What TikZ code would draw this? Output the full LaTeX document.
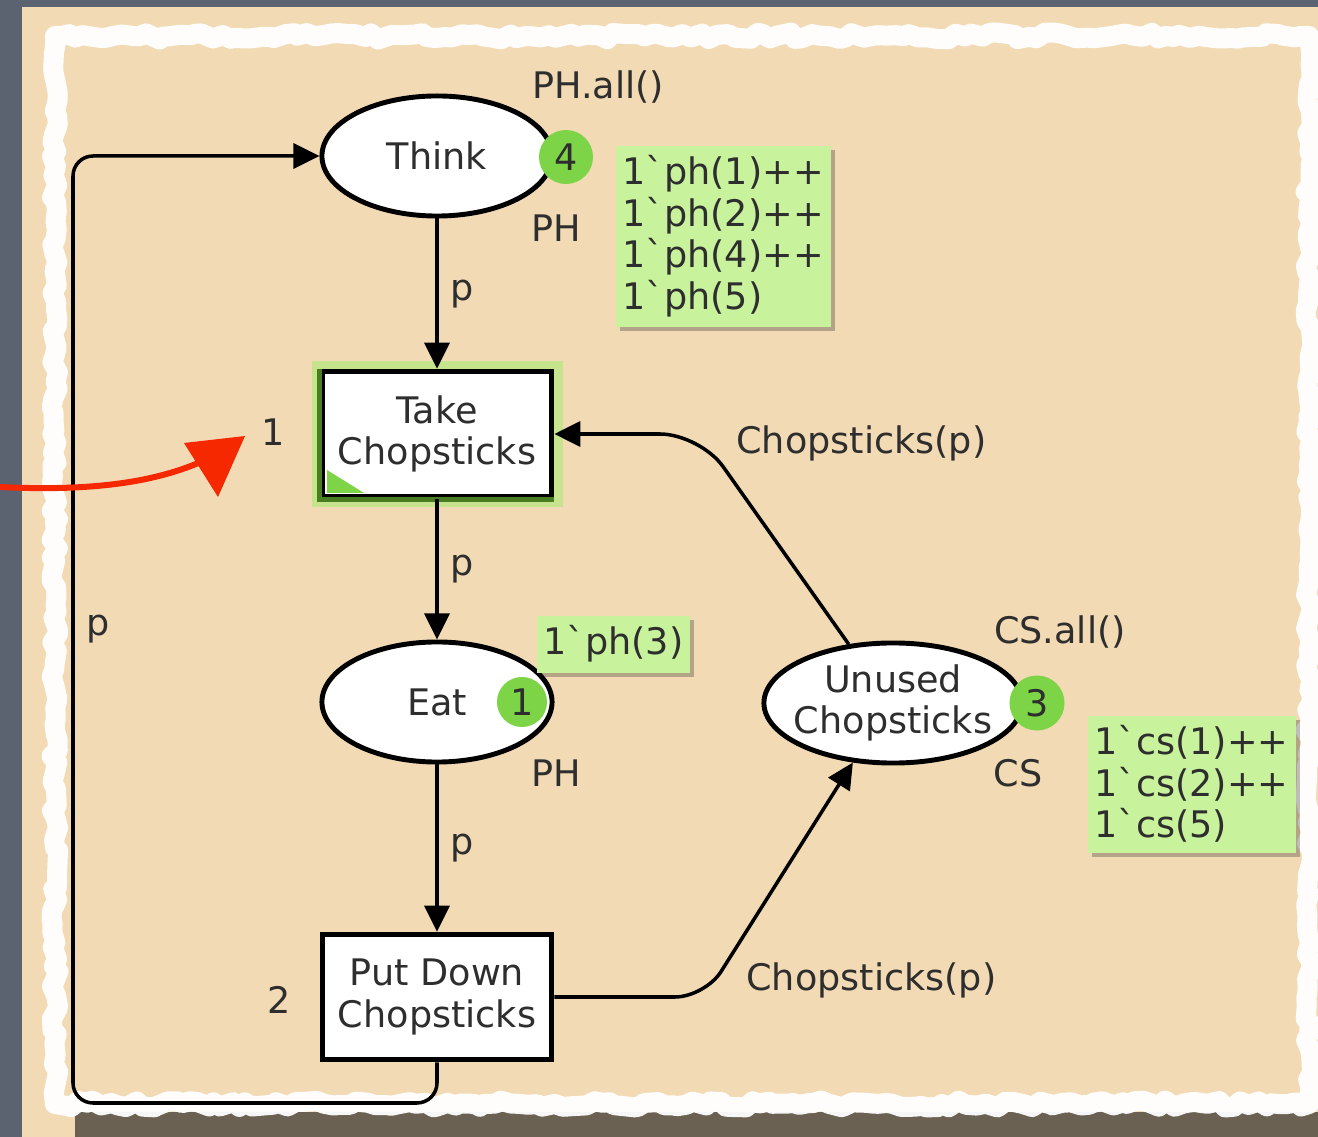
\documentclass[tikz,border=0pt]{standalone}
\usepackage{fontspec}
\newfontfamily\cpnface{DejaVu Sans}
\usetikzlibrary{arrows.meta,positioning,shapes.geometric,shadows,decorations.pathmorphing}

\definecolor{slate}{HTML}{5C6370}
\definecolor{paper}{HTML}{F2DAB5}
\definecolor{shadowbrown}{HTML}{6A6152}
\definecolor{ink}{HTML}{2E2E2E}
\definecolor{markgreen}{HTML}{C8F29C}
\definecolor{tokgreen}{HTML}{7DD446}
\definecolor{glowgreen}{HTML}{C6E38E}
\definecolor{edgegreen}{HTML}{4A7D22}
\definecolor{annored}{HTML}{F52800}

\begin{document}
\begin{tikzpicture}[x=0.01cm,y=-0.01cm,
    every node/.style={font=\cpnface\fontsize{10.4}{11.8}\selectfont, text=ink},
    place/.style={ellipse, draw, line width=1.4pt, fill=white, inner sep=0pt,
        minimum width=2.3cm, minimum height=1.2cm, align=center},
    trans/.style={rectangle, draw, line width=1.6pt, fill=white,
        minimum width=2.29cm, minimum height=1.25cm, align=center},
    token/.style={circle, fill=tokgreen, inner sep=0pt, minimum size=0.54cm},
    markbox/.style={fill=markgreen, align=left, inner xsep=0.07cm, inner ysep=0.1cm,
        drop shadow={shadow xshift=0.04cm, shadow yshift=-0.04cm, fill=black, opacity=0.25}},
    cpnarc/.style={line width=1pt, -{Triangle[length=0.26cm,width=0.25cm]}}]
    \useasboundingbox (0,0) rectangle (1318,1137);
    % torn paper
    \pgfmathsetseed{11}
    \fill[slate] (0,0) rectangle (1318,1137);
    \fill[paper] (22,7) rectangle (1318,1137);
    \fill[shadowbrown] (75,1112) rectangle (1318,1137);
    \draw[white, line width=0.2cm, line join=round, opacity=0.95,
        decorate, decoration={random steps, segment length=0.08cm, amplitude=0.035cm}]
        (55,36) rectangle (1309,1104);

    % places and transitions
    \fill[glowgreen] (312,361) rectangle (563,507);
    \node[place] (think) at (437,156) {Think};
    \node[trans] (take) at (437,434) {Take\\Chopsticks};
    \node[place] (eat) at (437,702) {Eat};
    \node[trans] (put) at (437,997) {Put Down\\Chopsticks};
    \node[place, minimum width=2.58cm, inner xsep=-0.12cm] (unused) at (893,703) {Unused\\Chopsticks};
    \draw[edgegreen, line width=1.6pt] (take.north west) -- (take.south west) -- (take.south east);
    \fill[tokgreen] (327,493) -- (327,470) -- (364,493) -- cycle;

    \node[token] (thinktok) at (566,157) {4};
    \node[token, minimum size=0.5cm] (eattok) at (522,702) {1};
    \node[token, minimum size=0.55cm] (unusedtok) at (1037,703) {3};

    % inscriptions
    \node (thinkinit) at (598,87) {PH.all()};
    \node (thinktype) at (556,228) {PH};
    \node (eattype) at (556,773) {PH};
    \node (unusedinit) at (1060,632) {CS.all()};
    \node (unusedtype) at (1018,773) {CS};
    \node (takeid) at (273,432) {1};
    \node (putid) at (279,1000) {2};
    \node[markbox, anchor=north west] (thinkmark) at (615,145)
        {1`ph(1)++\\1`ph(2)++\\1`ph(4)++\\1`ph(5)};
    \node[markbox, anchor=north west] (eatmark) at (536,615) {1`ph(3)};
    \node[markbox, anchor=north west] (unusedmark) at (1087,715)
        {1`cs(1)++\\1`cs(2)++\\1`cs(5)};

    % arcs
    \coordinate (loopcorner) at (73,1103);
    \draw[cpnarc] (think) -- node[right] {p} (take);
    \draw[cpnarc] (take) -- node[right] {p} (eat);
    \draw[cpnarc] (eat) -- node[right] {p} (put);
    \draw[cpnarc, rounded corners=0.2cm] (put.south) |- (loopcorner)
        |- node[pos=0.25, right] {p} (think.west);
    \draw[cpnarc, rounded corners=0.3cm] (put.east) -- (705,997) -- (unused.236);
    \draw[cpnarc, rounded corners=0.4cm] (unused.127) -- (700,434) -- (take.east);
    \node[anchor=west] (putcs) at (734,980) {Chopsticks(p)};
    \node[anchor=west] (takecs) at (724,443) {Chopsticks(p)};

    % red pointer
    \coordinate (redfrom) at (0,487);
    \coordinate (redto) at (203,461);
    \draw[annored, line width=0.06cm] (redfrom) .. controls (100,492) and (160,480) .. (redto);
    \fill[annored] (184,443) -- (245,436) -- (218,497) -- cycle;
\end{tikzpicture}
\end{document}
